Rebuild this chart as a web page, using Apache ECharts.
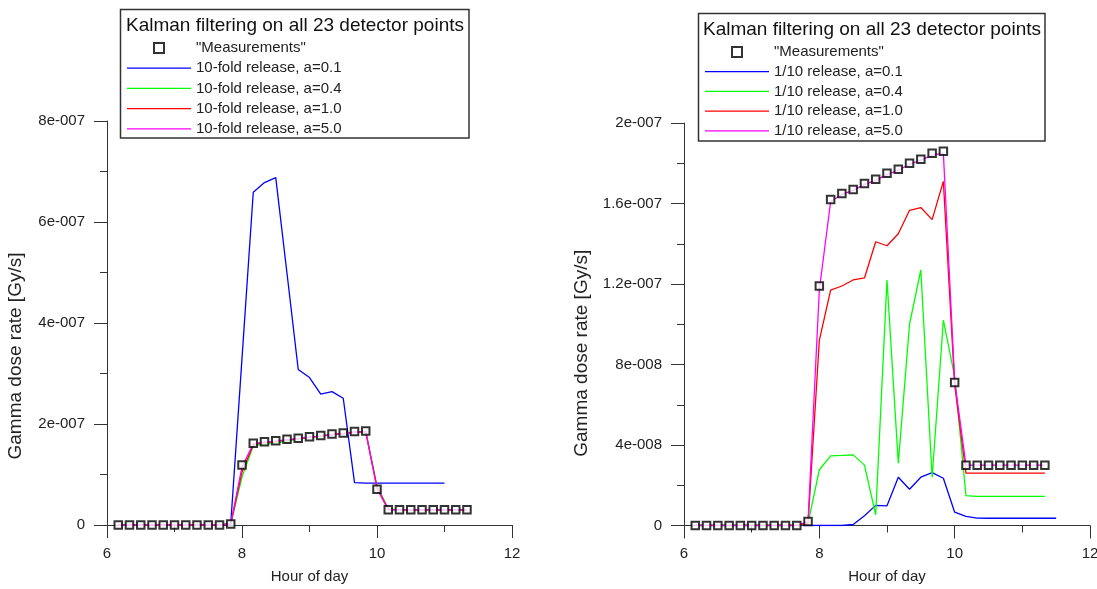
<!DOCTYPE html>
<html>
<head>
<meta charset="utf-8">
<script src="https://cdn.jsdelivr.net/npm/echarts@6/dist/echarts.min.js"></script>
<style>
  html, body { margin: 0; padding: 0; background: #fff; }
  #chart { width: 1097px; height: 589px; }
</style>
</head>
<body>
<div id="chart"></div>
<script>
// hour of day for each sample (10 minute steps)
const times = [6.167, 6.333, 6.5, 6.667, 6.833, 7.0, 7.167, 7.333, 7.5, 7.667, 7.833,
  8.0, 8.167, 8.333, 8.5, 8.667, 8.833, 9.0, 9.167, 9.333, 9.5, 9.667, 9.833,
  10.0, 10.167, 10.333, 10.5, 10.667, 10.833, 11.0, 11.167, 11.333, 11.5]

// all dose rates in units of 1e-7 Gy/s
const measurements = [0, 0, 0, 0, 0, 0, 0, 0, 0, 0, 0.02,
  1.19, 1.62, 1.65, 1.67, 1.70, 1.72, 1.75, 1.77, 1.80, 1.82, 1.85, 1.86,
  0.71, 0.30, 0.30, 0.30, 0.30, 0.30, 0.30, 0.30, 0.30]

// left: 10-fold release
const tenA01 = [0, 0, 0, 0, 0, 0, 0, 0, 0, 0, 0.02,
  3.3, 6.59, 6.78, 6.88, 4.98, 3.08, 2.92, 2.59, 2.64, 2.51, 0.84, 0.83,
  0.83, 0.83, 0.83, 0.83, 0.83, 0.83, 0.83]
const tenA04 = [0, 0, 0, 0, 0, 0, 0, 0, 0, 0, 0.02,
  0.95, 1.57, 1.60, 1.62, 1.66, 1.70, 1.74, 1.76, 1.79, 1.81, 1.84, 1.85,
  0.78, 0.32, 0.30, 0.30, 0.30, 0.30, 0.30, 0.30, 0.30]
const tenA10 = [0, 0, 0, 0, 0, 0, 0, 0, 0, 0, 0.02,
  1.05, 1.59, 1.63, 1.65, 1.68, 1.71, 1.74, 1.76, 1.79, 1.81, 1.84, 1.85,
  0.74, 0.31, 0.30, 0.30, 0.30, 0.30, 0.30, 0.30, 0.30]
const tenA50 = [0, 0, 0, 0, 0, 0, 0, 0, 0, 0, 0.02,
  1.15, 1.61, 1.64, 1.66, 1.69, 1.71, 1.74, 1.76, 1.79, 1.81, 1.84, 1.85,
  0.72, 0.30, 0.30, 0.30, 0.30, 0.30, 0.30, 0.30, 0.30]

// right: 1/10 release
const tenthA01 = [0, 0, 0, 0, 0, 0, 0, 0, 0, 0, 0, 0, 0, 0,
  0.005, 0.048, 0.10, 0.098, 0.24, 0.18, 0.24, 0.263, 0.235, 0.066, 0.045, 0.037,
  0.036, 0.036, 0.036, 0.036, 0.036, 0.036, 0.036]
const tenthA04 = [0, 0, 0, 0, 0, 0, 0, 0, 0, 0, 0.01,
  0.277, 0.346, 0.348, 0.351, 0.30, 0.053, 1.22, 0.31, 1.0, 1.27, 0.24, 1.02,
  0.74, 0.148, 0.145, 0.145, 0.145, 0.145, 0.145, 0.145, 0.145]
const tenthA10 = [0, 0, 0, 0, 0, 0, 0, 0, 0, 0, 0.01,
  0.92, 1.17, 1.19, 1.22, 1.23, 1.41, 1.39, 1.45, 1.566, 1.58, 1.52, 1.71,
  0.70, 0.26, 0.26, 0.26, 0.26, 0.26, 0.26, 0.26, 0.26]
const tenthA50 = [0, 0, 0, 0, 0, 0, 0, 0, 0, 0, 0.02,
  1.17, 1.61, 1.645, 1.665, 1.695, 1.715, 1.745, 1.765, 1.795, 1.815, 1.84, 1.85,
  0.72, 0.30, 0.30, 0.30, 0.30, 0.30, 0.30, 0.30, 0.30]

const legendTitle = 'Kalman filtering on all 23 detector points'
const measName = '"Measurements"'
const leftNames = ['10-fold release, a=0.1', '10-fold release, a=0.4', '10-fold release, a=1.0', '10-fold release, a=5.0']
const rightNames = ['1/10 release, a=0.1', '1/10 release, a=0.4', '1/10 release, a=1.0', '1/10 release, a=5.0']
const lineColors = ['#0000ff', '#00ff00', '#ff0000', '#ff00ff']

const FONT = '"Liberation Sans", Arial, sans-serif'

const pairs = (vals) => vals.map((v, i) => [times[i], v])

// 8 -> "8e-007", 0.4 -> "4e-008"
const sciLabel = (v) => {
  const x = v * 1e-7
  if (Math.abs(x) < 1e-20) return '0'
  let e = Math.floor(Math.log10(Math.abs(x)) + 1e-9)
  let m = +(x / Math.pow(10, e)).toPrecision(6)
  if (m >= 10) { m = +(m / 10).toPrecision(6); e++ }
  return m + 'e' + (e < 0 ? '-' : '+') + String(Math.abs(e)).padStart(3, '0')
}

const axisCommon = {
  axisLine: { show: true, lineStyle: { color: '#333', width: 1 } },
  axisTick: { show: true, length: 13, lineStyle: { color: '#333' } },
  minorTick: { show: true, splitNumber: 2, length: 7, lineStyle: { color: '#333' } },
  splitLine: { show: false },
  minorSplitLine: { show: false },
  axisLabel: { color: '#222', fontSize: 15, fontFamily: FONT },
  nameTextStyle: { color: '#222', fontSize: 15, fontFamily: FONT }
}

const xAxisFor = (gridIndex) => ({
  ...axisCommon,
  type: 'value', gridIndex,
  min: 6, max: 12, interval: 2,
  name: 'Hour of day', nameLocation: 'middle', nameGap: 44,
  axisLabel: { ...axisCommon.axisLabel, margin: 21 }
})

const yAxisFor = (gridIndex, max, interval, gap, shift) => ({
  ...axisCommon,
  type: 'value', gridIndex,
  min: 0, max, interval,
  name: 'Gamma dose rate [Gy/s]', nameLocation: 'middle', nameRotate: 90, nameGap: gap,
  nameTextStyle: { ...axisCommon.nameTextStyle, fontSize: 19, padding: [0, shift, 0, 0] },
  axisLabel: { ...axisCommon.axisLabel, margin: 22, formatter: sciLabel }
})

const lineSeries = (name, vals, idx, color) => ({
  name, type: 'line', xAxisIndex: idx, yAxisIndex: idx,
  data: pairs(vals), symbol: 'none', showSymbol: false,
  color, lineStyle: { color, width: 1.3 }, z: 2
})

const measSeries = (idx) => ({
  name: measName, type: 'scatter', xAxisIndex: idx, yAxisIndex: idx,
  data: pairs(measurements), symbol: 'rect', symbolSize: 7.5,
  itemStyle: { color: '#fff', borderColor: '#000', borderWidth: 2 }, z: 5
})

const legendFor = (names, left, top, gap) => ({
  orient: 'vertical', left, top,
  itemWidth: 64, itemHeight: 10, itemGap: gap,
  selectedMode: false,
  textStyle: { color: '#222', fontSize: 15, lineHeight: 15, fontFamily: FONT },
  data: [
    { name: measName, icon: 'path://M0,0H10V10H0Z', itemStyle: { color: '#fff', borderColor: '#000', borderWidth: 2 } },
    ...names.map((name, i) => ({
      name, icon: 'path://M0,0H64V1.3H0Z',
      itemStyle: { color: lineColors[i], borderWidth: 0 }
    }))
  ]
})

const boxGraphic = (x, y, w, h, cx, ty) => ([
  { type: 'rect', z: 3, shape: { x, y, width: w, height: h },
    style: { fill: '#fff', stroke: '#333', lineWidth: 1.5 } },
  { type: 'text', z: 5, x: cx, y: ty,
    style: { text: legendTitle, fill: '#111', fontSize: 19, fontFamily: FONT, textAlign: 'center', textVerticalAlign: 'middle' } }
])

const chart = echarts.init(document.getElementById('chart'))
chart.setOption({
  animation: false,
  backgroundColor: '#fff',
  grid: [
    { left: 107, top: 121, width: 405, height: 404, containLabel: false, outerBoundsMode: 'none' },
    { left: 684, top: 123, width: 406, height: 402.5, containLabel: false, outerBoundsMode: 'none' }
  ],
  xAxis: [xAxisFor(0), xAxisFor(1)],
  yAxis: [yAxisFor(0, 8, 2, 82, 66), yAxisFor(1, 2, 0.4, 93, 58)],
  legend: [
    legendFor(leftNames, 122, 35.5, 5.2),
    legendFor(rightNames, 700, 39.5, 4.7)
  ],
  graphic: [
    ...boxGraphic(120.5, 9.5, 348.5, 128.5, 295, 26),
    ...boxGraphic(698.5, 13.5, 346.5, 127.5, 872, 30)
  ],
  series: [
    measSeries(0),
    lineSeries(leftNames[0], tenA01, 0, lineColors[0]),
    lineSeries(leftNames[1], tenA04, 0, lineColors[1]),
    lineSeries(leftNames[2], tenA10, 0, lineColors[2]),
    lineSeries(leftNames[3], tenA50, 0, lineColors[3]),
    measSeries(1),
    lineSeries(rightNames[0], tenthA01, 1, lineColors[0]),
    lineSeries(rightNames[1], tenthA04, 1, lineColors[1]),
    lineSeries(rightNames[2], tenthA10, 1, lineColors[2]),
    lineSeries(rightNames[3], tenthA50, 1, lineColors[3])
  ]
})
</script>
</body>
</html>
